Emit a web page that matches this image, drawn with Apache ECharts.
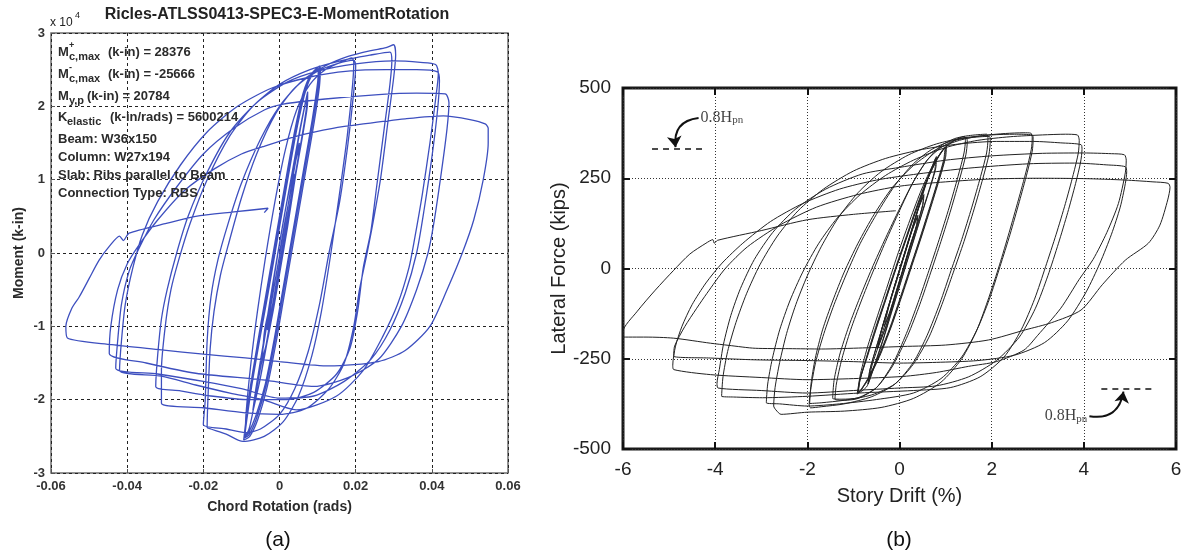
<!DOCTYPE html>
<html><head><meta charset="utf-8">
<script src="https://cdn.jsdelivr.net/npm/echarts@6/dist/echarts.min.js"></script>
<style>html,body{margin:0;padding:0;background:#fff}#c{width:1189px;height:554px}</style>
</head><body><div id="c"></div>
<script>
// ---------------- (a) Moment vs chord rotation (x: rad, y: x10^4 k-in) ----------------
const a_xTicks = [-0.06,-0.04,-0.02,0,0.02,0.04,0.06];
const a_yTicks = [-3,-2,-1,0,1,2,3];
const a_elastic = [
 [0,0],[0.0014,0.42],[0.0030,0.85],[0.0038,1.08],[0.0035,0.9],[0.0023,0.55],[0.0009,0.12],[-0.0005,-0.3],[-0.0018,-0.7],[-0.0032,-1.05],
 [-0.0022,-0.7],[-0.0007,-0.25],[0.0008,0.2],[0.0021,0.6],[0.0034,1.0],[0.0050,1.48],
 [0.0049,1.3],[0.0036,0.85],[0.0021,0.35],[0.0003,-0.2],[-0.0017,-0.8],[-0.0035,-1.25],[-0.0045,-1.45],
 [-0.0039,-1.05],[-0.0016,-0.5],[0.0003,0.05],[0.0021,0.6],[0.0037,1.1],[0.0052,1.5],
 [0.0048,1.25],[0.0034,0.8],[0.0019,0.3],[0.0001,-0.25],[-0.0019,-0.85],[-0.0036,-1.3],[-0.0046,-1.47],[-0.0058,-1.8],[-0.0068,-2.1],
 [-0.0059,-1.8],[-0.0040,-1.2],[-0.0022,-0.6],[-0.0004,0.0],[0.0016,0.6],[0.0036,1.15],[0.0055,1.7],[0.0072,2.15],
 [0.0070,1.95],[0.0056,1.5],[0.0039,1.0],[0.0021,0.45],[0.0003,-0.1],[-0.0017,-0.7],[-0.0035,-1.25],[-0.0052,-1.75],[-0.0070,-2.15],
 [-0.0062,-1.85],[-0.0043,-1.25],[-0.0025,-0.65],[-0.0006,-0.05],[0.0014,0.55],[0.0034,1.12],[0.0053,1.67],[0.0074,2.2],
 [0.0073,2.0],[0.0059,1.55],[0.0042,1.05],[0.0024,0.5],[0.0006,-0.05],[-0.0014,-0.65],[-0.0032,-1.2],[-0.0050,-1.7],[-0.0068,-2.12]
];
const a_c10 = [
 [-0.0080,-2.4],[-0.0092,-2.52],
 [-0.0088,-2.3],[-0.0075,-1.8],[-0.0055,-1.2],[-0.0035,-0.6],[-0.0015,0.0],[0.0005,0.6],[0.0025,1.2],[0.0045,1.75],[0.0065,2.2],[0.0085,2.45],[0.0105,2.55],
 [0.0102,2.3],[0.0088,1.8],[0.0068,1.2],[0.0048,0.6],[0.0028,0.0],[0.0008,-0.6],[-0.0012,-1.2],[-0.0035,-1.8],[-0.0060,-2.25],[-0.0080,-2.48],[-0.0092,-2.52],
 [-0.0086,-2.28],[-0.0072,-1.78],[-0.0052,-1.18],[-0.0031,-0.58],[-0.0011,0.02],[0.0009,0.62],[0.0029,1.22],[0.0049,1.78],[0.0069,2.22],[0.0089,2.46],[0.0108,2.53],
 [0.0105,2.28],[0.0091,1.78],[0.0071,1.18],[0.0051,0.58],[0.0031,-0.02],[0.0011,-0.62],[-0.0009,-1.22],[-0.0032,-1.82],[-0.0057,-2.27],[-0.0078,-2.5],[-0.0094,-2.55],
 [-0.0089,-2.32],[-0.0077,-1.84],[-0.0058,-1.24],[-0.0038,-0.64],[-0.0018,-0.04],[0.0002,0.56],[0.0022,1.16],[0.0042,1.72],[0.0062,2.18],[0.0082,2.43],[0.0102,2.5],
 [0.0100,2.32],[0.0086,1.82],[0.0066,1.22],[0.0046,0.62],[0.0026,0.02],[0.0006,-0.58],[-0.0014,-1.18],[-0.0037,-1.78],[-0.0062,-2.22],[-0.0082,-2.46],[-0.0090,-2.5]
];
const a_c20 = [
 [-0.0088,-2.2],[-0.0075,-1.5],[-0.0058,-0.8],[-0.0038,-0.1],[-0.0012,0.7],[0.0015,1.4],[0.0045,1.95],[0.008,2.3],[0.012,2.5],[0.016,2.6],[0.019,2.66],[0.0195,2.6],
 [0.0192,2.3],[0.0178,1.6],[0.016,0.9],[0.0135,0.0],[0.011,-0.8],[0.0085,-1.4],[0.005,-1.95],[0.001,-2.3],[-0.004,-2.5],[-0.0096,-2.57],[-0.014,-2.47],[-0.018,-2.4],[-0.019,-2.38],
 [-0.0188,-2.0],[-0.0182,-1.3],[-0.0172,-0.8],[-0.0155,-0.3],[-0.0135,0.1],[-0.010,0.75],[-0.006,1.35],[-0.001,1.9],[0.004,2.25],[0.010,2.48],[0.015,2.58],[0.0195,2.63],[0.020,2.55],
 [0.0195,2.2],[0.018,1.5],[0.0158,0.7],[0.013,0.0],[0.0105,-0.7],[0.0075,-1.35],[0.004,-1.85],[0.0,-2.2],[-0.005,-2.4],[-0.009,-2.45],[-0.014,-2.4],[-0.020,-2.34]
];
const a_c30 = [
 [-0.0195,-2.0],[-0.019,-1.2],[-0.018,-0.6],[-0.0162,-0.1],[-0.0135,0.4],[-0.010,0.95],[-0.005,1.55],[0.0,2.0],[0.006,2.35],[0.012,2.55],[0.018,2.68],[0.024,2.76],[0.028,2.8],[0.030,2.84],[0.0305,2.7],
 [0.030,2.4],[0.0285,1.8],[0.0265,1.0],[0.0245,0.4],[0.023,0.0],[0.021,-0.5],[0.0195,-1.0],[0.017,-1.5],[0.013,-1.85],[0.007,-2.12],[0.0,-2.2],[-0.009,-2.18],[-0.020,-2.11],[-0.031,-2.05],
 [-0.031,-1.6],[-0.030,-1.0],[-0.0285,-0.5],[-0.0265,-0.1],[-0.0235,0.4],[-0.019,1.0],[-0.013,1.6],[-0.007,2.0],[0.0,2.3],[0.008,2.5],[0.016,2.62],[0.024,2.7],[0.029,2.74],[0.0295,2.62],
 [0.029,2.3],[0.0275,1.7],[0.0255,0.9],[0.024,0.3],[0.022,-0.2],[0.0205,-0.8],[0.0185,-1.3],[0.015,-1.65],[0.009,-1.9],[0.002,-2.0],[-0.008,-2.0],[-0.018,-1.95],[-0.026,-1.88],[-0.0325,-1.82]
];
const a_c40 = [
 [-0.032,-1.4],[-0.031,-0.9],[-0.0295,-0.5],[-0.027,0.0],[-0.024,0.5],[-0.019,1.1],[-0.013,1.65],[-0.006,2.05],[0.002,2.33],[0.010,2.48],[0.020,2.58],[0.030,2.62],[0.037,2.6],[0.041,2.57],[0.0417,2.45],
 [0.041,2.1],[0.0395,1.5],[0.0375,0.8],[0.0355,0.2],[0.034,-0.2],[0.031,-0.7],[0.027,-1.15],[0.022,-1.6],[0.015,-1.95],[0.0044,-2.14],[-0.0044,-2.0],[-0.013,-1.91],[-0.022,-1.8],[-0.031,-1.68],[-0.042,-1.6],
 [-0.0415,-1.2],[-0.0405,-0.7],[-0.0385,-0.2],[-0.036,0.25],[-0.032,0.7],[-0.026,1.2],[-0.019,1.65],[-0.011,2.0],[-0.002,2.25],[0.008,2.4],[0.018,2.48],[0.028,2.5],[0.036,2.5],[0.0415,2.47],[0.042,2.35],
 [0.0415,1.95],[0.040,1.3],[0.038,0.6],[0.036,0.0],[0.033,-0.55],[0.029,-1.05],[0.024,-1.45],[0.017,-1.75],[0.009,-1.95],[0.0,-1.98],[-0.010,-1.85],[-0.020,-1.75],[-0.032,-1.65],[-0.043,-1.57]
];
const a_c44 = [
 [-0.0425,-1.2],[-0.0415,-0.7],[-0.0395,-0.25],[-0.037,0.05],[-0.033,0.45],[-0.027,0.9],[-0.020,1.35],[-0.012,1.7],[-0.004,1.95],[0.001,2.03],[0.012,2.1],[0.026,2.16],[0.036,2.18],[0.0435,2.17],[0.0445,2.05],
 [0.044,1.7],[0.0425,1.1],[0.0405,0.4],[0.039,0.0],[0.036,-0.5],[0.032,-1.0],[0.026,-1.45],[0.018,-1.7],[0.009,-1.82],[-0.0044,-1.73],[-0.022,-1.64],[-0.035,-1.5],[-0.0447,-1.37]
];
const a_c55 = [
 [-0.0443,-1.0],[-0.0425,-0.5],[-0.040,-0.15],[-0.037,0.1],[-0.032,0.45],[-0.025,0.85],[-0.017,1.15],[-0.010,1.35],[-0.0044,1.45],[0.005,1.6],[0.014,1.7],[0.022,1.76],[0.033,1.83],[0.043,1.87],[0.050,1.82],[0.054,1.76],[0.0548,1.7],
 [0.0548,1.5],[0.0535,1.0],[0.051,0.45],[0.048,0.0],[0.044,-0.5],[0.0395,-1.0],[0.033,-1.33],[0.026,-1.48],[0.013,-1.54],[0.0,-1.48],[-0.009,-1.43],[-0.020,-1.38],[-0.031,-1.32],[-0.044,-1.25],[-0.0557,-1.16]
];
const a_final = [
 [-0.0561,-1.0],[-0.0545,-0.75],[-0.0526,-0.6],[-0.050,-0.35],[-0.0474,-0.1],[-0.0447,0.09],[-0.042,0.23],[-0.041,0.17],[-0.0395,0.27],[-0.030,0.4],[-0.022,0.5],[-0.012,0.56],[-0.003,0.61],[-0.004,0.55]
];

// ---------------- (b) Lateral force vs story drift (x: %, y: kips) ----------------
const b_xTicks = [-6,-4,-2,0,2,4,6];
const b_yTicks = [-500,-250,0,250,500];
const b_elastic = [
 [0,0],[0.115,40],[0.26,100],[0.395,145],[0.37,120],[0.22,60],[0.08,0],[-0.06,-60],[-0.21,-120],[-0.33,-160],
 [-0.22,-100],[-0.05,-30],[0.12,42],[0.27,105],[0.40,148],[0.37,118],[0.22,58],[0.07,-5],[-0.07,-62],[-0.22,-125],[-0.34,-165],[-0.48,-223],
 [-0.39,-170],[-0.23,-100],[-0.04,-20],[0.13,50],[0.3,120],[0.415,170],[0.52,200],
 [0.5,175],[0.38,120],[0.22,55],[0.066,-10],[-0.11,-85],[-0.28,-155],[-0.48,-223],
 [-0.40,-175],[-0.24,-105],[-0.05,-25],[0.12,45],[0.29,115],[0.41,165],[0.53,205],
 [0.51,178],[0.39,122],[0.23,57],[0.07,-8],[-0.1,-82],[-0.27,-152],[-0.47,-220],[-0.6,-270],[-0.68,-320],
 [-0.64,-280],[-0.47,-205],[-0.29,-130],[-0.12,-55],[0.06,20],[0.24,95],[0.42,170],[0.58,235],[0.71,282],[0.78,305],
 [0.77,275],[0.66,225],[0.5,160],[0.33,90],[0.16,20],[-0.02,-55],[-0.2,-130],[-0.38,-205],[-0.55,-270],[-0.68,-320],
 [-0.65,-285],[-0.49,-212],[-0.31,-137],[-0.14,-62],[0.04,14],[0.22,90],[0.4,165],[0.56,230],[0.7,280],[0.8,310],
 [0.79,280],[0.68,230],[0.52,165],[0.35,95],[0.18,25],[0.0,-50],[-0.18,-125],[-0.36,-200],[-0.53,-265],[-0.7,-325]
];
const b_c1 = [
 [-0.82,-340],[-0.9,-345],
 [-0.86,-310],[-0.72,-250],[-0.52,-170],[-0.3,-85],[-0.08,0],[0.15,85],[0.38,170],[0.6,245],[0.8,300],[0.95,330],[1.0,337],
 [0.98,305],[0.86,250],[0.68,175],[0.47,90],[0.25,5],[0.03,-80],[-0.2,-165],[-0.45,-245],[-0.68,-305],[-0.84,-338],[-0.9,-345],
 [-0.85,-305],[-0.70,-245],[-0.50,-165],[-0.28,-80],[-0.06,5],[0.17,90],[0.40,175],[0.62,250],[0.82,303],[0.97,332],[1.02,338],
 [1.0,308],[0.88,253],[0.70,178],[0.49,93],[0.27,8],[0.05,-77],[-0.18,-162],[-0.43,-243],[-0.66,-303],[-0.83,-336],[-0.92,-348],
 [-0.87,-312],[-0.73,-252],[-0.54,-172],[-0.32,-88],[-0.1,-3],[0.13,82],[0.36,167],[0.58,242],[0.78,297],[0.93,327],[0.99,335],
 [0.96,302],[0.84,247],[0.66,172],[0.45,87],[0.23,2],[0.01,-83],[-0.22,-168],[-0.47,-248],[-0.70,-308],[-0.86,-340],[-0.9,-345]
];
const b_c15 = [
 [-0.86,-300],[-0.7,-220],[-0.5,-140],[-0.28,-55],[-0.05,35],[0.2,125],[0.45,210],[0.7,280],[0.95,330],[1.2,355],[1.41,366],[1.43,355],
 [1.4,320],[1.27,255],[1.08,170],[0.86,80],[0.64,-5],[0.4,-95],[0.15,-180],[-0.15,-265],[-0.5,-330],[-0.9,-360],[-1.2,-365],[-1.4,-362],
 [-1.37,-320],[-1.25,-250],[-1.06,-170],[-0.83,-90],[-0.58,-10],[-0.3,75],[0.0,160],[0.3,240],[0.6,300],[0.9,335],[1.2,355],[1.45,363],[1.47,350],
 [1.44,315],[1.31,250],[1.12,165],[0.9,75],[0.68,-10],[0.44,-100],[0.18,-185],[-0.15,-270],[-0.5,-330],[-0.9,-358],[-1.25,-362],[-1.45,-360]
];
const b_c2 = [
 [-1.42,-310],[-1.3,-240],[-1.1,-160],[-0.86,-80],[-0.6,0],[-0.3,85],[0.0,165],[0.3,240],[0.6,300],[0.9,340],[1.2,360],[1.5,368],[1.89,372],[1.92,360],
 [1.89,320],[1.76,255],[1.57,170],[1.35,80],[1.12,-5],[0.88,-95],[0.6,-185],[0.3,-260],[-0.1,-320],[-0.6,-355],[-1.2,-375],[-1.7,-383],[-1.93,-386],[-1.96,-376],
 [-1.92,-330],[-1.82,-260],[-1.64,-180],[-1.42,-100],[-1.15,-15],[-0.85,70],[-0.5,150],[-0.1,230],[0.3,290],[0.7,330],[1.1,352],[1.5,362],[1.95,366],[1.97,355],
 [1.94,315],[1.81,250],[1.62,165],[1.4,75],[1.17,-10],[0.92,-100],[0.64,-190],[0.3,-265],[-0.1,-320],[-0.6,-350],[-1.2,-365],[-1.7,-372],[-1.95,-374]
];
const b_c3 = [
 [-1.92,-320],[-1.83,-250],[-1.67,-170],[-1.45,-90],[-1.2,-10],[-0.9,70],[-0.55,150],[-0.15,225],[0.3,285],[0.8,330],[1.3,355],[1.8,368],[2.3,374],[2.7,376],[2.85,375],[2.88,362],
 [2.86,330],[2.75,270],[2.58,190],[2.38,100],[2.17,10],[1.94,-80],[1.68,-170],[1.35,-250],[0.9,-315],[0.3,-360],[-0.4,-385],[-1.2,-395],[-2.0,-398],[-2.57,-404],[-2.68,-392],[-2.73,-381],
 [-2.7,-330],[-2.6,-260],[-2.45,-180],[-2.25,-100],[-2.0,-20],[-1.7,60],[-1.33,140],[-0.9,210],[-0.4,268],[0.2,315],[0.8,345],[1.4,362],[2.0,370],[2.5,372],[2.88,370],[2.9,358],
 [2.88,325],[2.77,265],[2.6,185],[2.4,95],[2.18,5],[1.95,-85],[1.68,-170],[1.35,-245],[0.9,-305],[0.3,-345],[-0.5,-363],[-1.3,-375],[-2.0,-381],[-2.6,-375],[-2.89,-372]
];
const b_c4 = [
 [-2.86,-320],[-2.76,-250],[-2.6,-170],[-2.38,-90],[-2.1,-10],[-1.75,70],[-1.35,140],[-0.85,205],[-0.3,258],[0.3,300],[1.0,335],[1.7,355],[2.4,365],[3.1,370],[3.6,372],[3.86,370],[3.9,355],
 [3.88,320],[3.77,260],[3.6,180],[3.4,95],[3.17,5],[2.93,-85],[2.64,-170],[2.27,-245],[1.75,-300],[1.1,-330],[0.3,-338],[-0.88,-345],[-2.0,-354],[-2.97,-358],[-3.6,-356],[-3.86,-354],
 [-3.83,-300],[-3.73,-230],[-3.55,-150],[-3.32,-70],[-3.03,10],[-2.65,90],[-2.2,160],[-1.65,220],[-1.0,270],[-0.3,305],[0.5,330],[1.3,345],[2.1,352],[2.9,352],[3.5,348],[3.94,343],[3.96,330],
 [3.93,295],[3.82,235],[3.65,155],[3.45,70],[3.22,-20],[2.95,-110],[2.6,-190],[2.1,-255],[1.5,-300],[0.8,-325],[0.0,-331],[-1.0,-338],[-2.0,-345],[-3.0,-338],[-3.94,-331]
];
const b_c5 = [
 [-3.96,-318],[-3.91,-280],[-3.82,-210],[-3.66,-130],[-3.45,-55],[-3.15,25],[-2.75,100],[-2.25,165],[-1.6,220],[-0.8,262],[0.0,280],[1.0,300],[2.0,312],[3.1,319],[4.0,320],[4.6,318],[4.88,315],[4.92,300],
 [4.9,265],[4.75,180],[4.5,100],[4.2,25],[3.9,-30],[3.5,-110],[3.0,-185],[2.7,-226],[2.1,-258],[1.5,-271],[0.8,-288],[0.08,-299],[-1.0,-305],[-2.0,-308],[-3.0,-302],[-4.1,-294],[-4.9,-280],
 [-4.92,-268],[-4.86,-215],[-4.72,-160],[-4.5,-100],[-4.2,-40],[-3.85,15],[-3.4,70],[-2.8,130],[-2.1,180],[-1.3,220],[-0.5,245],[0.4,262],[1.5,278],[2.8,290],[3.8,292],[4.5,287],[4.9,282],[4.93,268],
 [4.9,235],[4.79,170],[4.6,95],[4.35,15],[4.05,-65],[3.65,-145],[3.15,-205],[2.5,-240],[1.7,-255],[0.8,-260],[0.0,-262],[-1.0,-258],[-2.0,-255],[-3.13,-253],[-4.1,-248],[-4.9,-243]
];
const b_c6 = [
 [-4.88,-215],[-4.66,-161],[-4.4,-110],[-4.18,-69],[-3.78,0],[-3.3,60],[-2.6,120],[-1.8,170],[-0.9,205],[0.0,228],[1.0,240],[2.0,248],[3.0,250],[4.0,249],[4.9,245],[5.5,240],[5.83,236],[5.87,225],
 [5.82,190],[5.65,120],[5.4,70],[4.9,23],[4.4,-45],[3.94,-115],[3.3,-150],[2.73,-170],[1.93,-198],[1.0,-212],[0.08,-216],[-0.8,-220],[-1.69,-223],[-2.4,-222],[-3.13,-221],[-3.7,-213],[-4.1,-207],[-4.9,-193],[-5.5,-190],[-6.0,-190]
];
const b_final = [
 [-6.0,-175],[-5.7,-120],[-5.3,-60],[-4.9,-5],[-4.55,40],[-4.2,70],[-4.05,80],[-4.02,70],[-3.95,78],[-3.0,105],[-2.0,135],[-1.0,150],[-0.08,160]
];
// 0.8 Hpn annotation (kips) and its extent in drift (%)
const b_hpnTop = [[-5.37,331],[-4.22,331]];
const b_hpnBot = [[4.38,-334],[5.54,-334]];
const b_arrowTop = [[-4.36,417],[-4.86,336]];
const b_arrowBot = [[4.12,-409],[4.86,-341]];

const aPath = [].concat(a_elastic,a_c10,a_c20,a_c30,a_c40,a_c44,a_c55,a_final);
const bPath = [].concat(b_elastic,b_c1,b_c15,b_c2,b_c3,b_c4,b_c5,b_c6,b_final);

const chart = echarts.init(document.getElementById('c'), null, {renderer:'canvas'});
const SANS = 'Liberation Sans, Arial, sans-serif';
const SERIF = 'Liberation Serif, Times New Roman, serif';
const fmtA = v => { const r = Math.round(v*100)/100; return r === 0 ? '0' : r.toFixed(2); };

const infoStyle = (t, size) => ({text:t, font:'bold '+(size||13)+'px '+SANS, fill:'#2b2b2b', textVerticalAlign:'middle'});
const info = [
 [58,52,'M'],[69,46,'+',9],[69,57,'c,max',11],[108,52,'(k-in) = 28376'],
 [58,74,'M'],[69,68,'-',9],[69,79,'c,max',11],[108,74,'(k-in) = -25666'],
 [58,96,'M'],[69,101,'y,p',11],[87,96,'(k-in) = 20784'],
 [58,117,'K'],[67,122,'elastic',11],[110,117,'(k-in/rads) = 5600214'],
 [58,139,'Beam: W36x150'],[58,157,'Column: W27x194'],[58,175,'Slab: Ribs parallel to Beam'],[58,193,'Connection Type: RBS']
];
const graphics = info.map(d => ({type:'text', x:d[0], y:d[1], z:10, style:infoStyle(d[2], d[3])}));
graphics.push(
 {type:'text', x:277, y:15, style:{text:'Ricles-ATLSS0413-SPEC3-E-MomentRotation', font:'bold 16px '+SANS, fill:'#222', textAlign:'center', textVerticalAlign:'middle'}},
 {type:'text', x:50, y:23, style:{text:'x 10', font:'12px '+SANS, fill:'#222', textVerticalAlign:'middle'}},
 {type:'text', x:75, y:16, style:{text:'4', font:'9px '+SANS, fill:'#222', textVerticalAlign:'middle'}},
 {type:'text', x:278, y:540, style:{text:'(a)', font:'21px '+SANS, fill:'#111', textAlign:'center', textVerticalAlign:'middle'}},
 {type:'text', x:899, y:540, style:{text:'(b)', font:'21px '+SANS, fill:'#111', textAlign:'center', textVerticalAlign:'middle'}}
);

const hpnRich = {a:{fontFamily:SERIF, fontSize:16, color:'#111', verticalAlign:'top', lineHeight:16},
                 s:{fontFamily:SERIF, fontSize:11, color:'#111', verticalAlign:'bottom', lineHeight:11, padding:[9,0,0,0]}};

const tickB = {show:true, inside:true, length:7, lineStyle:{color:'#111', width:2}};

chart.setOption({
 animation:false,
 backgroundColor:'#fff',
 graphic: graphics,
 grid:[
  {left:51, top:33, width:457, height:440, show:true, borderColor:'#6e6e6e', borderWidth:1.5, backgroundColor:'#fff'},
  {left:623, top:88, width:553, height:361, show:true, borderColor:'#1a1a1a', borderWidth:3, backgroundColor:'#fff'}
 ],
 xAxis:[
  {gridIndex:0, type:'value', min:a_xTicks[0], max:a_xTicks[a_xTicks.length-1], interval:0.02,
   name:'Chord Rotation (rads)', nameLocation:'middle', nameGap:27,
   nameTextStyle:{fontFamily:SANS, fontWeight:'bold', fontSize:14, color:'#2b2b2b'},
   axisLine:{show:false, onZero:false}, axisTick:{show:true, inside:true, length:4, lineStyle:{color:'#555'}},
   axisLabel:{formatter:fmtA, fontFamily:SANS, fontWeight:'bold', fontSize:13, color:'#333', margin:7, showMinLabel:true, showMaxLabel:true},
   splitLine:{show:true, lineStyle:{color:'#222', type:[3,3], width:1}}},
  {gridIndex:1, type:'value', min:b_xTicks[0], max:b_xTicks[b_xTicks.length-1], interval:2,
   name:'Story Drift (%)', nameLocation:'middle', nameGap:37,
   nameTextStyle:{fontFamily:SANS, fontSize:20, color:'#222'},
   axisLine:{show:false, onZero:false}, axisTick:tickB,
   axisLabel:{fontFamily:SANS, fontSize:19, color:'#222', margin:11},
   splitLine:{show:true, lineStyle:{color:'#333', type:[1,2], width:1}}},
  {gridIndex:1, type:'value', position:'top', min:-6, max:6, interval:2,
   axisLine:{show:false, onZero:false}, axisTick:tickB,
   axisLabel:{show:false}, splitLine:{show:false}}
 ],
 yAxis:[
  {gridIndex:0, type:'value', min:a_yTicks[0], max:a_yTicks[a_yTicks.length-1], interval:1,
   name:'Moment (k-in)', nameLocation:'middle', nameGap:25,
   nameTextStyle:{fontFamily:SANS, fontWeight:'bold', fontSize:14, color:'#2b2b2b'},
   axisLine:{show:false, onZero:false}, axisTick:{show:true, inside:true, length:4, lineStyle:{color:'#555'}},
   axisLabel:{fontFamily:SANS, fontWeight:'bold', fontSize:13, color:'#333', margin:6},
   splitLine:{show:true, lineStyle:{color:'#222', type:[3,3], width:1}}},
  {gridIndex:1, type:'value', min:b_yTicks[0], max:b_yTicks[b_yTicks.length-1], interval:250,
   name:'Lateral Force (kips)', nameLocation:'middle', nameGap:38,
   nameTextStyle:{fontFamily:SANS, fontSize:20, color:'#222'},
   axisLine:{show:false, onZero:false}, axisTick:tickB,
   axisLabel:{fontFamily:SANS, fontSize:19, color:'#222', margin:12},
   splitLine:{show:true, lineStyle:{color:'#333', type:[1,2], width:1}}},
  {gridIndex:1, type:'value', position:'right', min:-500, max:500, interval:250,
   axisLine:{show:false, onZero:false}, axisTick:tickB,
   axisLabel:{show:false}, splitLine:{show:false}}
 ],
 series:[
  {type:'line', xAxisIndex:0, yAxisIndex:0, data:aPath, showSymbol:false, smooth:0.25,
   lineStyle:{color:'#3d4fbf', width:1.3}, z:5},
  {type:'line', xAxisIndex:1, yAxisIndex:1, data:bPath, showSymbol:false, smooth:0.25,
   lineStyle:{color:'#222', width:1}, z:5,
   markLine:{silent:true, animation:false, label:{show:false}, symbol:['none','none'],
    lineStyle:{type:[6,5], width:1.6, color:'#111'},
    data:[
     [{coord:b_hpnTop[0]},{coord:b_hpnTop[1]}],
     [{coord:b_hpnBot[0]},{coord:b_hpnBot[1]}]
    ]}},
  {type:'lines', coordinateSystem:'cartesian2d', xAxisIndex:1, yAxisIndex:1, silent:true, z:6,
   symbol:['none','arrow'], symbolSize:11,
   lineStyle:{type:'solid', width:2, color:'#111', curveness:-0.5, opacity:1},
   data:[{coords:b_arrowTop}, {coords:b_arrowBot}]},
  {type:'scatter', xAxisIndex:1, yAxisIndex:1, symbolSize:0, silent:true, z:6,
   data:[
    {value:b_arrowTop[0], label:{show:true, position:'right', distance:2, formatter:'{a|0.8H}{s|pn}', rich:hpnRich}},
    {value:b_arrowBot[0], label:{show:true, position:'left', distance:2, formatter:'{a|0.8H}{s|pn}', rich:hpnRich}}
   ]}
 ]
});
</script></body></html>
